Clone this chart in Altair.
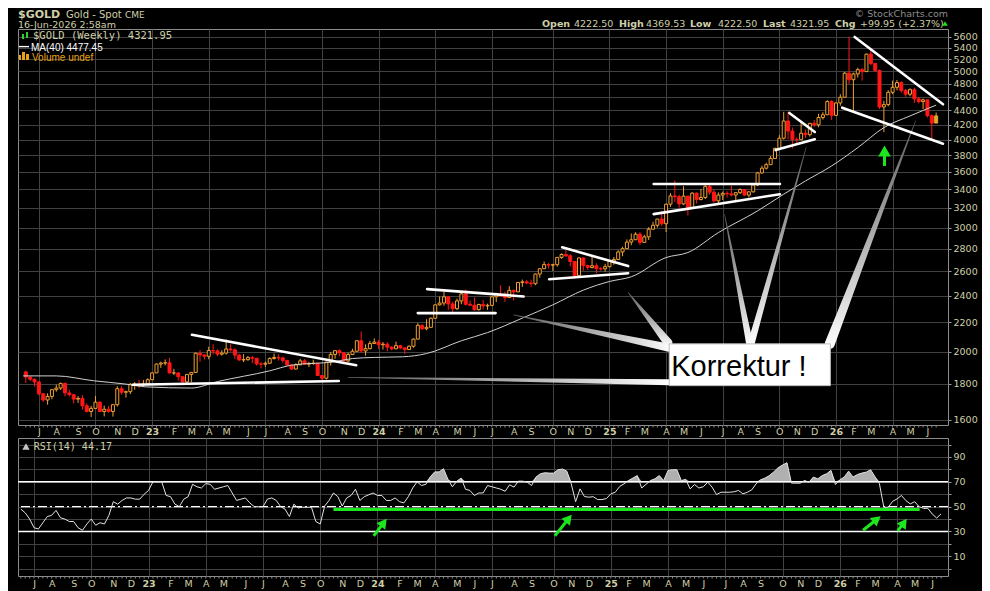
import altair as alt
import pandas as pd

# ---------------- data ----------------
FIRST_WEEK = "2022-06-13"          # weekly bars (Monday dated)
FIRST_OPEN = 1871.0
LAST_OPEN = 4222.50

close = [
    # 2022
    1840, 1827, 1811, 1742, 1707, 1727, 1766, 1775, 1802, 1747, 1737, 1712, 1716, 1675, 1644,
    1661, 1695, 1644, 1656, 1644, 1681, 1771, 1751, 1754, 1797, 1797, 1793, 1798, 1824,
    # 2023
    1865, 1920, 1926, 1928, 1865, 1865, 1842, 1811, 1856, 1868, 1989, 1978, 1969, 2007, 2004,
    1983, 1990, 2017, 2011, 1977, 1946, 1948, 1961, 1957, 1921, 1919, 1925, 1955, 1962, 1959,
    1943, 1914, 1889, 1915, 1940, 1919, 1924, 1925, 1849, 1833, 1932, 1981, 2006, 1992, 1940,
    1981, 2002, 2072, 2004, 2019, 2053, 2063,
    # 2024
    2045, 2049, 2029, 2018, 2039, 2024, 2013, 2035, 2083, 2179, 2155, 2165, 2230, 2330, 2344,
    2392, 2337, 2301, 2360, 2415, 2334, 2327, 2294, 2333, 2322, 2326, 2392, 2411, 2400, 2386,
    2443, 2431, 2507, 2512, 2503, 2497, 2577, 2622, 2658, 2653, 2657, 2721, 2747, 2736, 2685,
    2563, 2716, 2650, 2633, 2648, 2622, 2621, 2640,
    # 2025
    2690, 2703, 2770, 2800, 2861, 2883, 2936, 2858, 2910, 2984, 3023, 3085, 3038, 3238, 3327,
    3319, 3241, 3325, 3204, 3358, 3289, 3310, 3433, 3368, 3274, 3337, 3355, 3350, 3337, 3363,
    3398, 3336, 3372, 3448, 3587, 3643, 3685, 3760, 3886, 4018, 4251, 4113, 4002, 4000, 4084,
    4065, 4218, 4198, 4300, 4338, 4530, 4330,
    # 2026
    4509, 4594, 4970, 4866, 4958, 5028, 4996, 5290, 5130, 5015, 4450, 4485, 4669, 4746, 4820,
    4695, 4640, 4710, 4570, 4530, 4555, 4326, 4222, 4321.95,
]
high = [
    1879, 1847, 1830, 1813, 1745, 1745, 1767, 1795, 1807, 1808, 1765, 1740, 1729, 1735, 1688,
    1675, 1729, 1700, 1676, 1675, 1682, 1786, 1786, 1760, 1804, 1810, 1824, 1823, 1833,
    1870, 1923, 1935, 1949, 1959, 1890, 1870, 1845, 1858, 1871, 1993, 2009, 1983, 2032, 2048,
    2015, 2009, 2081, 2048, 2022, 1985, 1983, 1971, 1971, 1959, 1933, 1935, 1963, 1987, 1982,
    1967, 1946, 1917, 1925, 1953, 1952, 1933, 1947, 1926, 1850, 1934, 1997, 2009, 2014, 1993,
    1994, 2018, 2075, 2135, 2048, 2071, 2088,
    2079, 2063, 2062, 2037, 2066, 2045, 2030, 2041, 2088, 2195, 2185, 2223, 2236, 2331, 2394,
    2431, 2393, 2354, 2378, 2422, 2450, 2364, 2388, 2338, 2368, 2339, 2392, 2424, 2483, 2433,
    2477, 2450, 2509, 2531, 2528, 2529, 2581, 2625, 2685, 2673, 2665, 2722, 2758, 2790, 2750,
    2685, 2721, 2721, 2657, 2726, 2670, 2638, 2665,
    2697, 2725, 2786, 2817, 2886, 2942, 2955, 2956, 2930, 3004, 3057, 3086, 3168, 3245, 3358,
    3500, 3340, 3435, 3330, 3366, 3365, 3403, 3446, 3452, 3397, 3366, 3375, 3377, 3439, 3363,
    3409, 3400, 3379, 3453, 3600, 3674, 3707, 3791, 3897, 4059, 4380, 4381, 4161, 4030, 4245,
    4133, 4225, 4265, 4353, 4375, 4549, 4550,
    4520, 4640, 4990, 5600, 4980, 5060, 5060, 5300, 5400, 5140, 5030, 4540, 4700, 4851, 4860,
    4840, 4720, 4730, 4740, 4600, 4575, 4560, 4340, 4369.53,
]
low = [
    1805, 1816, 1784, 1733, 1697, 1681, 1711, 1754, 1764, 1727, 1727, 1688, 1691, 1654, 1639,
    1615, 1660, 1640, 1618, 1638, 1617, 1671, 1737, 1721, 1741, 1765, 1775, 1784, 1795,
    1822, 1865, 1896, 1911, 1861, 1852, 1819, 1809, 1804, 1810, 1867, 1934, 1949, 1950, 1981,
    1969, 1974, 1980, 2001, 1952, 1940, 1932, 1940, 1925, 1910, 1893, 1902, 1922, 1948, 1942,
    1928, 1911, 1885, 1885, 1914, 1915, 1901, 1915, 1846, 1810, 1825, 1910, 1953, 1970, 1932,
    1931, 1977, 1996, 1993, 1973, 2014, 2050,
    2017, 2013, 2002, 2009, 2016, 2015, 1985, 2011, 2025, 2083, 2146, 2145, 2163, 2228, 2325,
    2324, 2292, 2277, 2291, 2335, 2325, 2324, 2286, 2287, 2295, 2293, 2319, 2351, 2392, 2353,
    2385, 2364, 2431, 2471, 2492, 2472, 2485, 2546, 2622, 2624, 2603, 2640, 2708, 2725, 2643,
    2537, 2560, 2605, 2614, 2625, 2583, 2604, 2597,
    2635, 2656, 2699, 2732, 2799, 2832, 2880, 2833, 2858, 2880, 2982, 3000, 3015, 2957, 3210,
    3260, 3202, 3230, 3121, 3200, 3245, 3278, 3293, 3340, 3255, 3248, 3282, 3310, 3323, 3268,
    3348, 3330, 3311, 3364, 3436, 3578, 3627, 3685, 3760, 3880, 4000, 4004, 3886, 3930, 3997,
    4022, 4040, 4170, 4165, 4270, 4335, 4265,
    4320, 4470, 4590, 4800, 4400, 4900, 4851, 4990, 5100, 4990, 4420, 4100, 4460, 4640, 4700,
    4660, 4600, 4610, 4510, 4500, 4420, 4300, 4009, 4222.50,
]
rsi = [
    48, 45, 40, 33, 32, 37, 42, 43, 47, 41, 40, 38, 38, 33, 31, 36, 40, 35, 37, 36, 43, 54, 52,
    55, 57, 57, 56, 56, 60,
    63, 70, 70, 70, 59, 58, 52, 50, 56, 58, 68, 66, 65, 68.5, 68, 64, 65, 66, 67, 61, 55, 56,
    57, 53, 50, 50, 50, 56, 57, 55, 50, 48, 42, 52, 49, 49.5, 49.5, 49.5, 38, 36, 50.5, 55, 61,
    58, 50.5, 57, 59, 64, 55, 58, 59.5, 61,
    59, 59, 55, 55, 57, 54, 53, 58, 65, 70, 67, 68, 74, 78, 78, 80.5, 72, 66, 70.4, 73, 64, 63,
    59, 61, 61, 67, 66, 65, 64, 62.4, 67.6, 65.7, 70.5, 70.5, 69.7, 67, 73.8, 76.5, 77.3, 77,
    77, 79.7, 80.3, 78.6, 68.4, 54, 64.3, 58.1, 57.6, 58, 55.7, 55.7, 56.5,
    60.3, 61.6, 66.2, 68.4, 71, 73, 75, 65, 68, 71, 72.4, 75, 71, 79.2, 79.7, 79.7, 71, 72,
    64.3, 67.8, 65, 66, 69.7, 65.7, 59.7, 61.6, 61.6, 61.6, 62, 63, 60.3, 61.6, 63.5, 68.4,
    71.6, 73, 75, 78, 81.4, 83.5, 85.4, 69, 68.9, 68.9, 71, 69.7, 73.8, 72.4, 75, 76.5, 79.2,
    67.8,
    71.6, 73.8, 78.6, 73.8, 75.9, 77, 77.8, 79.7, 74, 68.4, 49.5, 49.5, 54.3, 56.2, 59, 54.9,
    52.2, 54, 50, 48.6, 48.6, 44, 40.8, 44.17,
]
# MA(40) read at a set of week positions
ma_week = [-0.6, 7, 15.5, 23, 27.5, 38, 44, 56, 61, 71, 75, 80, 86.5, 92, 100, 106, 114, 121,
           128, 134, 139, 147, 152, 159, 168, 174, 179, 185, 191, 197, 203, 209]
ma_value = [1847, 1847, 1818, 1798, 1782, 1775, 1813, 1878, 1913, 1935, 1955, 1962, 1966, 1987,
            2072, 2128, 2231, 2330, 2445, 2515, 2554, 2720, 2765, 2951, 3168, 3346, 3494, 3670,
            3896, 4160, 4322, 4477.45]

# hand-drawn annotations (date, price)
trend_lines = [
    ("2023-03-07", 2113, "2023-11-26", 1913),
    ("2022-12-02", 1794, "2023-10-29", 1816),
    ("2024-03-04", 2268, "2024-07-07", 2268),
    ("2024-03-19", 2453, "2024-08-21", 2395),
    ("2024-10-22", 2812, "2025-02-05", 2645),
    ("2024-10-01", 2534, "2025-02-05", 2584),
    ("2025-03-18", 3460, "2025-10-07", 3460),
    ("2025-03-18", 3135, "2025-10-07", 3346),
    ("2025-10-22", 4364, "2025-12-02", 4101),
    ("2025-09-30", 3865, "2025-12-02", 4005),
    ("2026-02-04", 5595, "2026-06-26", 4490),
    ("2026-01-15", 4440, "2026-06-26", 3947),
]
wedges = [
    ("W1", "2025-02-05", 2426, "2025-04-10", 2058, 9, "v"),
    ("W2", "2025-07-10", 3134, "2025-08-19", 2058, 7, "v"),
    ("W3", "2025-11-18", 3896, "2025-08-22", 2058, 7, "v"),
    ("W4", "2026-05-13", 4252, "2025-12-26", 2051, 10, "v"),
    ("W5", "2024-08-05", 2255, "2025-04-12", 2025, 8, "h"),
    ("W6", "2023-11-13", 1838, "2025-04-12", 1809, 6, "h"),
]
callout_box = ("2025-04-12", 2051, "2025-12-27", 1789)
callout_label = ("2025-08-02", 1847, "Korrektur !")
main_arrow = ("2026-03-24", 3670, 3829, 3854)    # date, shaft bottom, shaft top, head centre
rsi_support = ("2023-10-23", "2026-05-12", 47.7)
rsi_arrows = [
    ("2023-12-26", 26.4, "2024-01-11", 37.1, 37),
    ("2024-10-09", 26.4, "2024-10-31", 40.4, 39),
    ("2026-02-11", 31.0, "2026-03-05", 39.8, 52),
    ("2026-04-07", 30.4, "2026-04-17", 37.0, 35),
]
price_ticks = list(range(1600, 5601, 200))
rsi_ticks = list(range(0, 101, 10))

# ---------------- styles ----------------
BEIGE = "#cfcfa8"
GRID = "#424242"
UP = "#f0a030"
DOWN = "#ff1717"
LASTFILL = "#c8b428"
GREEN = "#1ee61e"
SANS = "Liberation Sans"
DJ = "DejaVu Sans"
MONO = "DejaVu Sans Mono"

# ---------------- tables ----------------
weeks = pd.date_range(FIRST_WEEK, periods=len(close), freq="7D")
opens = [FIRST_OPEN] + close[:-1]
opens[-1] = LAST_OPEN
kind = ["up" if c >= o else "down" for o, c in zip(opens, close)]
kind[-1] = "last"
df = pd.DataFrame({"date": weeks.strftime("%Y-%m-%d"), "open": opens, "close": close,
                   "high": high, "low": low, "kind": kind})

t0 = pd.Timestamp(FIRST_WEEK)
df_ma = pd.DataFrame({
    "date": [(t0 + pd.Timedelta(days=7 * w)).strftime("%Y-%m-%dT%H:%M:%SZ") for w in ma_week],
    "ma": ma_value})
df_rsi = pd.DataFrame({"date": weeks.strftime("%Y-%m-%d"), "rsi": rsi})
df_tl = pd.DataFrame(trend_lines, columns=["d1", "p1", "d2", "p2"])

wrows = []
for wid, td, tp, bd, bp, bw, o in wedges:
    wrows.append({"id": wid, "k": 0, "date": td, "price": tp, "w": 0.6, "o": o})
    wrows.append({"id": wid, "k": 1, "date": bd, "price": bp, "w": bw, "o": o})
df_w = pd.DataFrame(wrows)

month_starts = []
prev = None
for d in weeks:
    if prev is not None and d.month != prev.month:
        month_starts.append(d)
    prev = d
tick_dt = [alt.DateTime(year=d.year, month=d.month, date=d.day, utc=True) for d in month_starts]

XS = alt.Scale(type="utc", domain=[alt.DateTime(year=2022, month=6, date=8, hours=12, utc=True),
                                   alt.DateTime(year=2026, month=6, date=26, utc=True)])
YS = alt.Scale(type="log", domain=[1573, 5743], nice=False, zero=False)
RS = alt.Scale(domain=[-5.9, 105.3], nice=False, zero=False)

LABEL_EXPR = ("utcmonth(datum.value) == 0 ? utcFormat(datum.value, '%y') : "
              "slice(utcFormat(datum.value, '%b'), 0, 1)")


def x_axis(pad):
    return alt.Axis(
        values=tick_dt, labelExpr=LABEL_EXPR,
        labelFontWeight={"condition": {"test": "utcmonth(datum.value) == 0", "value": "bold"}, "value": "normal"},
        gridOpacity={"condition": {"test": "utcmonth(datum.value) % 3 == 0", "value": 1}, "value": 0},
        grid=True, gridColor=GRID, ticks=False, domain=False,
        labelColor=BEIGE, labelFont=DJ, labelFontSize=9.5, labelPadding=pad,
        labelOverlap=False, title=None)


X_MAIN = x_axis(1)
X_RSI = x_axis(2)
Y_MAIN = alt.Axis(orient="right", values=price_ticks, format="d", grid=True, gridColor=GRID,
                  domain=False, ticks=True, tickSize=3, tickColor="#9a9a9a", labelColor=BEIGE,
                  labelFont=DJ, labelFontSize=9.5, labelPadding=2, labelOverlap=False,
                  title=None)
Y_RSI = alt.Axis(orient="right", values=rsi_ticks,
                 labelExpr="datum.value % 20 == 10 ? datum.label : ''",
                 grid=True, gridColor=GRID, domain=False, ticks=True, tickSize=3,
                 tickColor="#9a9a9a", labelColor=BEIGE, labelFont=DJ,
                 labelFontSize=9.5, labelPadding=2, labelOverlap=False, title=None)


def X(field="date"):
    return alt.X(f"{field}:T", scale=XS, axis=X_MAIN, title=None)


def Y(field):
    return alt.Y(f"{field}:Q", scale=YS, axis=Y_MAIN, title=None)


def RX(field="date"):
    return alt.X(f"{field}:T", scale=XS, axis=X_RSI, title=None)


def RY(field):
    return alt.Y(f"{field}:Q", scale=RS, axis=Y_RSI, title=None)


ONE = pd.DataFrame({"k": [0]})


def txt(s, x, y, size, color=BEIGE, weight="normal", font=DJ, align="left"):
    return alt.Chart(ONE).mark_text(text=s, fontSize=size, fontWeight=weight, font=font,
                                    color=color, align=align, baseline="alphabetic").encode(
        x=alt.value(x), y=alt.value(y))


def box(x1, y1, x2, y2, color):
    return alt.Chart(ONE).mark_rect(color=color).encode(
        x=alt.value(x1), x2=alt.value(x2), y=alt.value(y1), y2=alt.value(y2))


KINDS = ["up", "down", "last"]

# ---------------- main price panel ----------------
week_ticks_main = alt.Chart(df).mark_rule(color="#8c8c8c", strokeWidth=1).encode(
    x=X(), y=alt.value(396.5), y2=alt.value(398.5))
wicks = alt.Chart(df).mark_rule(strokeWidth=1).encode(
    x=X(), y=Y("low"), y2="high:Q",
    color=alt.Color("kind:N", scale=alt.Scale(domain=KINDS, range=[UP, DOWN, UP]), legend=None),
)
bodies = alt.Chart(df).mark_bar(size=3, strokeWidth=1).encode(
    x=X(), y=Y("open"), y2="close:Q",
    fill=alt.Fill("kind:N", scale=alt.Scale(domain=KINDS, range=["#000000", DOWN, LASTFILL]), legend=None),
    stroke=alt.Stroke("kind:N", scale=alt.Scale(domain=KINDS, range=[UP, DOWN, UP]), legend=None),
)
ma_line = alt.Chart(df_ma).mark_line(color="#d0d0d0", strokeWidth=1, interpolate="monotone").encode(
    x=X(), y=Y("ma"))
tl = alt.Chart(df_tl).mark_rule(color="white", strokeWidth=2.6, strokeCap="round").encode(
    x=X("d1"), x2="d2:T", y=Y("p1"), y2="p2:Q")

grad_h = alt.LinearGradient(gradient="linear", x1=0, x2=1, y1=0, y2=0,
                            stops=[alt.GradientStop(color="#5a5a5a", offset=0),
                                   alt.GradientStop(color="#ffffff", offset=1)])
grad_v = alt.LinearGradient(gradient="linear", x1=0, x2=0, y1=0, y2=1,
                            stops=[alt.GradientStop(color="#5a5a5a", offset=0),
                                   alt.GradientStop(color="#ffffff", offset=1)])
wedge_layers = []
for o, g in (("h", grad_h), ("v", grad_v)):
    wedge_layers.append(
        alt.Chart(df_w[df_w["o"] == o]).mark_trail(color=g).encode(
            x=X(), y=Y("price"), size=alt.Size("w:Q", scale=None, legend=None),
            detail="id:N", order="k:Q"))

df_box = pd.DataFrame([callout_box], columns=["d1", "p1", "d2", "p2"])
callout = alt.Chart(df_box).mark_rect(fill="white", stroke="#bdbdbd", strokeWidth=1).encode(
    x=X("d1"), x2="d2:T", y=Y("p1"), y2="p2:Q")
df_lab = pd.DataFrame([callout_label], columns=["date", "price", "t"])
callout_txt = alt.Chart(df_lab).mark_text(font=SANS, fontSize=29, color="black", align="center",
                                          baseline="alphabetic").encode(
    x=X(), y=Y("price"), text="t:N")

df_ma_arrow = pd.DataFrame([main_arrow], columns=["date", "p0", "p1", "ph"])
arrow_shaft = alt.Chart(df_ma_arrow).mark_rule(color=GREEN, strokeWidth=3).encode(
    x=X(), y=Y("p0"), y2="p1:Q")
arrow_head = alt.Chart(df_ma_arrow).mark_point(shape="triangle-up", filled=True, color=GREEN,
                                               size=160, opacity=1).encode(x=X(), y=Y("ph"))

TY = -11.4
header = [
    txt("$GOLD", 0, TY, 11, weight="bold"),
    txt("Gold - Spot", 48, TY, 10),
    txt("CME", 107, TY, 9),
    txt("16-Jun-2026 2:58am", 0, -1.2, 9.5),
    txt("\u00a9 StockCharts.com", 930, -12.3, 9.5, color="#8c8c8c", align="right"),
    txt("Open", 524, -2, 9.5, weight="bold"),
    txt("4222.50", 556, -2, 9.5),
    txt("High", 601, -2, 9.5, weight="bold"),
    txt("4369.53", 628, -2, 9.5),
    txt("Low", 672, -2, 9.5, weight="bold"),
    txt("4222.50", 700, -2, 9.5),
    txt("Last", 745, -2, 9.5, weight="bold"),
    txt("4321.95", 772, -2, 9.5),
    txt("Chg", 817, -2, 9.5, weight="bold"),
    txt("+99.95 (+2.37%)", 842, -2, 9.5),
    alt.Chart(ONE).mark_point(shape="triangle-up", filled=True, color=GREEN, size=30, opacity=1).encode(
        x=alt.value(927), y=alt.value(-5.5)),
    box(4, 5, 6, 10, "#2fd12f"), box(8, 3, 10, 9, "#2fd12f"),
    txt("$GOLD (Weekly) 4321.95", 15, 10.3, 10.5, font=MONO),
    box(1, 16.9, 11, 18.3, "white"),
    txt("MA(40) 4477.45", 13, 21.6, 10, color="white", font=SANS),
    box(1, 26, 3, 31, "#e8a317"), box(4, 23, 7, 31, "#e8a317"), box(8, 25, 11, 31, "#e8a317"),
    txt("Volume undef", 14, 31.6, 10, color="#e8a317", font=SANS),
]

main = alt.layer(week_ticks_main, wicks, bodies, ma_line, *wedge_layers, tl, callout, callout_txt,
                 arrow_shaft, arrow_head, *header).properties(width=930, height=396)

# ---------------- RSI panel ----------------
rsi_base = alt.Chart(df_rsi)
rsi_fill = rsi_base.transform_calculate(hi="max(datum.rsi, 70)").mark_area(color="#b0b0b0").encode(
    x=RX(), y=RY("hi"), y2=alt.datum(70))
week_ticks_rsi = rsi_base.mark_rule(color="#8c8c8c", strokeWidth=1).encode(
    x=RX(), y=alt.value(138.5), y2=alt.value(140.5))


def hline(v, dash=None, width=1.5):
    kw = {"color": "white", "strokeWidth": width}
    if dash:
        kw["strokeDash"] = dash
    return alt.Chart(ONE).mark_rule(**kw).encode(y=alt.Y(datum=v, scale=RS, axis=Y_RSI, title=None))


rsi_line = rsi_base.mark_line(color="#e2e2e2", strokeWidth=1).encode(x=RX(), y=RY("rsi"))
df_sup = pd.DataFrame([rsi_support], columns=["d1", "d2", "v"])
support = alt.Chart(df_sup).mark_rule(color=GREEN, strokeWidth=3).encode(
    x=RX("d1"), x2="d2:T", y=RY("v"), y2="v:Q")
df_arr = pd.DataFrame(rsi_arrows, columns=["d1", "v1", "d2", "v2", "ang"])
arr_shaft = alt.Chart(df_arr).mark_rule(color=GREEN, strokeWidth=3).encode(
    x=RX("d1"), x2="d2:T", y=RY("v1"), y2="v2:Q")
arr_head = alt.Chart(df_arr).mark_point(shape="triangle-up", filled=True, color=GREEN, size=121,
                                        opacity=1).encode(
    x=RX("d2"), y=RY("v2"), angle=alt.Angle("ang:Q", scale=None))

rsi_legend = [
    alt.Chart(ONE).mark_point(shape="triangle-up", filled=True, color="#c4c4c4", size=55, opacity=1).encode(
        x=alt.value(8), y=alt.value(8.5)),
    txt("RSI(14) 44.17", 15.7, 11.5, 10, font=MONO),
]

rsi_panel = alt.layer(rsi_fill, week_ticks_rsi, hline(70), hline(30),
                      hline(50, dash=[9, 3, 2, 3], width=1.2),
                      rsi_line, support, arr_shaft, arr_head, *rsi_legend).properties(width=930, height=138)

chart = alt.vconcat(main, rsi_panel, spacing=13, bounds="flush").resolve_scale(
    x="independent", y="independent"
).properties(
    background="black", padding={"left": 8, "top": 0, "right": 4, "bottom": 4}
).configure_view(stroke="#8c8c8c", strokeWidth=1)

chart.save("out.html", embed_options={"renderer": "svg", "actions": False})
